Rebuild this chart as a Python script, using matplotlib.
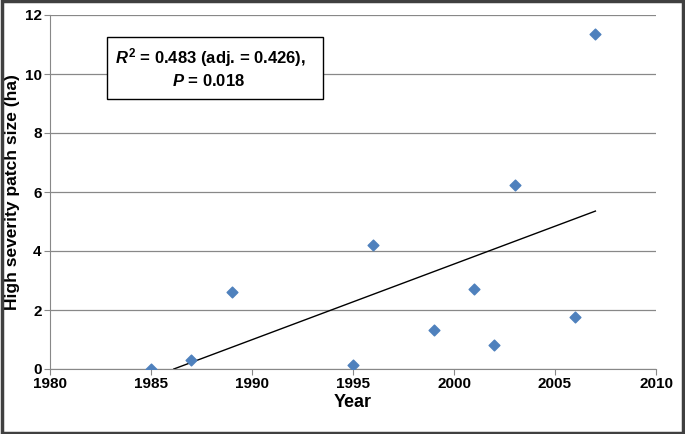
import numpy as np
import matplotlib
matplotlib.use("Agg")
import matplotlib.pyplot as plt

years = [1985, 1987, 1989, 1995, 1996, 1999, 2001, 2002, 2003, 2006, 2007]
patch = [0.0, 0.32, 2.6, 0.12, 4.2, 1.33, 2.72, 0.8, 6.25, 1.75, 11.35]
xticks = [1980, 1985, 1990, 1995, 2000, 2005, 2010]
yticks = [0, 2, 4, 6, 8, 10, 12]

plt.rcParams['font.family'] = 'Liberation Sans'
plt.rcParams['mathtext.fontset'] = 'custom'
plt.rcParams['mathtext.rm'] = 'Liberation Sans:bold'
plt.rcParams['mathtext.it'] = 'Liberation Sans:italic:bold'
fig = plt.figure(figsize=(6.85, 4.34), dpi=100)
fig.patches.append(plt.Rectangle((0.003, 0.003), 0.994, 0.994, transform=fig.transFigure,
                                 fill=False, edgecolor='#404040', linewidth=2.5))
ax = fig.add_axes([50/685, 1-369/434, 606/685, 354/434])
ax.set_xlim(1980, 2010)
ax.set_ylim(0, 12)
ax.set_xticks(xticks)
ax.set_yticks(yticks)
ax.grid(axis='y', color='#888888', linewidth=0.9)
ax.set_axisbelow(True)
for s in ['top', 'right']:
    ax.spines[s].set_visible(False)
for s in ['left', 'bottom']:
    ax.spines[s].set_color('#888888')
ax.tick_params(labelsize=11, colors='black', length=4, color='#888888', pad=2)
for lab in ax.get_xticklabels() + ax.get_yticklabels():
    lab.set_fontweight('bold')

m, b = np.polyfit(years, patch, 1)
x0 = -b / m
xs = np.array([x0, max(years)])
ax.plot(xs, m * xs + b, color='black', linewidth=1)
ax.scatter(years, patch, marker='D', s=30, color='#4f81bd', zorder=3)

ax.set_xlabel('Year', fontsize=13, fontweight='bold', labelpad=2)
ax.set_ylabel('High severity patch size (ha)', fontsize=12.5, fontweight='bold', labelpad=3)

fig.text(115/685, 1-58/434, r'$\it{R}^{2}$' + ' = 0.483 (adj. = 0.426),', fontsize=12,
         fontweight='bold', va='center')
fig.text(172/685, 1-81/434, r'$\it{P}$' + ' = 0.018', fontsize=12, fontweight='bold', va='center')
fig.patches.append(plt.Rectangle((107/685, 1-99/434), 216/685, 62/434, transform=fig.transFigure,
                                 fill=True, facecolor='white', edgecolor='black', linewidth=1, zorder=0))
fig.savefig('out.png', dpi=100)
